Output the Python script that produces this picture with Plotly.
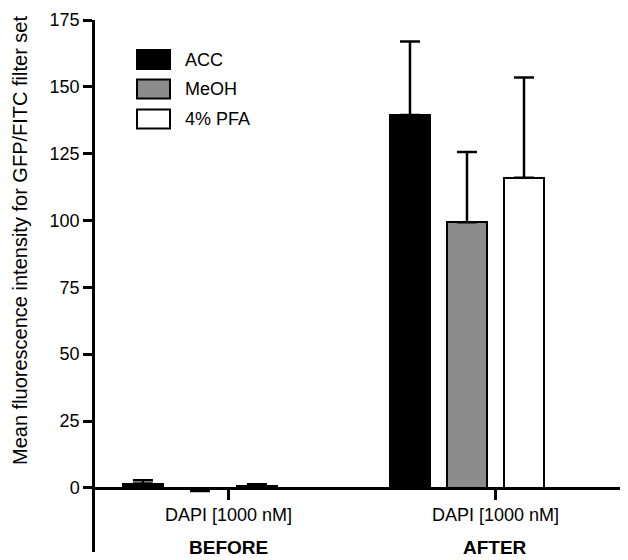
import plotly.graph_objects as go

# ---- data ----
groups = ["BEFORE", "AFTER"]
tick_label = "DAPI [1000 nM]"
series_names = ["ACC", "MeOH", "4% PFA"]
acc_vals = [1.6, 139.5]
acc_err = [1.2, 27.5]
meoh_vals = [-0.6, 99.3]
meoh_err = [0.6, 26.3]
pfa_vals = [0.7, 116.0]
pfa_err = [0.6, 37.5]
y_ticks = [0, 25, 50, 75, 100, 125, 150, 175]

# ---- styling / layout ----
FONT = "Liberation Sans, Arial, Helvetica, sans-serif"
fills = ["#000000", "#8c8c8c", "#ffffff"]
OFF = 8  # page body margin offset
W, H = 628 - OFF, 560 - OFF
ML, MR, MT, MB = 95 - OFF, 0, 20 - OFF, 8
YMIN, YMAX = -24, 175
XMIN, XMAX = -0.393, 1.603
spacing = 0.2135
bar_w = 0.148

values = [acc_vals, meoh_vals, pfa_vals]
errors = [acc_err, meoh_err, pfa_err]
gpos = list(range(len(groups)))

fig = go.Figure()
for i, (name, vals, errs) in enumerate(zip(series_names, values, errors)):
    off = (i - 1) * spacing
    plus = [e if v >= 0 else 0 for v, e in zip(vals, errs)]
    minus = [e if v < 0 else 0 for v, e in zip(vals, errs)]
    fig.add_trace(go.Bar(
        x=[g + off for g in gpos], y=vals, width=bar_w, name=name,
        marker=dict(color=fills[i], line=dict(color="black", width=2)),
        error_y=dict(type="data", symmetric=False, array=plus, arrayminus=minus,
                     color="black", thickness=2.5, width=10),
        showlegend=False,
    ))

pw = W - ML - MR
ph = H - MT - MB
def px2x(px):
    return (px - OFF - ML) / pw
def py2y(py):
    return (H - MB - (py - OFF)) / ph

shapes = []
annotations = []
# custom legend
leg_y = [59.5, 89, 119]
for i, name in enumerate(series_names):
    cy = leg_y[i]
    shapes.append(dict(type="rect", xref="paper", yref="paper",
                       x0=px2x(137), x1=px2x(170), y0=py2y(cy + 9.5), y1=py2y(cy - 9.5),
                       fillcolor=fills[i], line=dict(color="black", width=2)))
    annotations.append(dict(xref="paper", yref="paper", x=px2x(183), y=py2y(cy),
                            xanchor="left", yanchor="middle", text=name, showarrow=False,
                            font=dict(family=FONT, size=18, color="black")))

# group labels
for g, lab in zip(gpos, groups):
    annotations.append(dict(xref="x", yref="paper", x=g + spacing / 2, y=py2y(547),
                            xanchor="center", yanchor="middle", text="<b>%s</b>" % lab,
                            showarrow=False, font=dict(family=FONT, size=19, color="black")))

# y-axis title
annotations.append(dict(xref="paper", yref="paper", x=px2x(20), y=py2y(241),
                        xanchor="center", yanchor="middle", textangle=-90,
                        text="Mean fluorescence intensity for GFP/FITC filter set",
                        showarrow=False, font=dict(family=FONT, size=20, color="black")))

fig.update_layout(
    width=W, height=H, margin=dict(l=ML, r=MR, t=MT, b=MB),
    plot_bgcolor="white", paper_bgcolor="white",
    barmode="overlay", bargap=0,
    font=dict(family=FONT, size=18, color="black"),
    xaxis=dict(range=[XMIN, XMAX], anchor="free", position=(0 - YMIN) / (YMAX - YMIN),
               showline=True, linecolor="black", linewidth=2.5,
               tickmode="array", tickvals=[g + spacing / 2 for g in gpos],
               ticktext=[tick_label] * len(gpos), ticks="outside", ticklen=10,
               tickwidth=2.5, tickcolor="black", showgrid=False, zeroline=False,
               tickfont=dict(family=FONT, size=18, color="black")),
    yaxis=dict(range=[YMIN, YMAX], showline=True, linecolor="black", linewidth=2.5,
               tickmode="array", tickvals=y_ticks, ticks="outside", ticklen=9,
               tickwidth=2.5, tickcolor="black", showgrid=False, zeroline=False,
               tickfont=dict(family=FONT, size=18, color="black")),
    shapes=shapes, annotations=annotations,
)

fig.write_html("out.html")
